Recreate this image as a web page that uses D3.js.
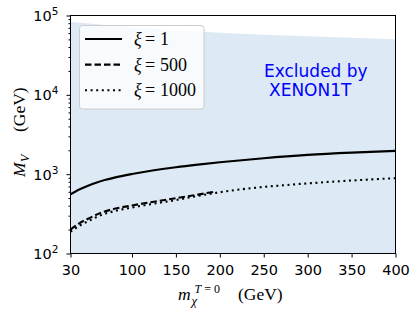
<!DOCTYPE html>
<html>
<head>
<meta charset="utf-8">
<script src="https://cdn.jsdelivr.net/npm/d3@7"></script>
<style>
body{margin:0;background:#fff;}
</style>
</head>
<body>
<div id="chart"></div>
<script>
// M_V curves (GeV), against m_chi (GeV)
const mXi1 = [30,40,50,60,70,80,100,125,150,175,200,250,300,350,400];
const mvXi1 = [555,640,715,785,848,905,1005,1120,1225,1320,1410,1590,1750,1870,1965];
const mXi500 = [30,40,50,65,80,100,125,150,175,195];
const mvXi500 = [200,240,274,327,366,403,450,497,552,605];
const mXi1000 = [30,40,50,65,80,100,125,150,175,200,225,250,275,300,325,350,375,400];
const mvXi1000 = [188,223,255,305,342,380,425,472,532,592,645,690,728,765,800,832,862,890];

// upper edge of the XENON1T excluded band
const mBound = [30,60,100,150,200,250,300,350,400];
const mvBound = [83300,77600,71000,65000,60500,57400,54900,52600,50300];

const xTicks = [30,100,150,200,250,300,350,400];
const yDecades = [2,3,4,5];
const legendLabels = ['1','500','1000'];

let dim = {'width':420, 'height':318};
let m = {left:70.5, right:395.5, top:15.5, bottom:253.5};

let svg = d3.select('#chart').append('svg')
    .attr('width', dim.width)
    .attr('height', dim.height)
    .style('background', 'white');

let x = d3.scaleLinear().domain([30,400]).range([m.left, m.right]);
let y = d3.scaleLog().domain([1e2,1e5]).range([m.bottom, m.top]);

svg.append('defs').append('clipPath').attr('id','clip')
    .append('rect')
    .attr('x', m.left).attr('y', m.top)
    .attr('width', m.right-m.left).attr('height', m.bottom-m.top);

let plot = svg.append('g').attr('clip-path','url(#clip)');

// excluded region
let band = d3.zip(mBound, mvBound);
plot.append('path')
    .datum(band)
    .attr('d', d3.area()
        .x(d => x(d[0]))
        .y0(y(1e2))
        .y1(d => y(d[1]))
        .curve(d3.curveMonotoneX))
    .attr('fill', '#dde9f4');

let series = [
    {m: mXi1, v: mvXi1, dash: null},
    {m: mXi500, v: mvXi500, dash: '6.5,3'},
    {m: mXi1000, v: mvXi1000, dash: '2,3.6'}
];

let line = d3.line()
    .x(d => x(d[0]))
    .y(d => y(d[1]))
    .curve(d3.curveMonotoneX);

plot.selectAll('path.curve')
    .data(series)
    .join('path')
    .attr('class','curve')
    .attr('d', d => line(d3.zip(d.m, d.v)))
    .attr('fill','none')
    .attr('stroke','black')
    .attr('stroke-width', 2.1)
    .attr('stroke-dasharray', d => d.dash);

// axes
let xAxis = svg.append('g')
    .attr('transform', `translate(0,${m.bottom})`)
    .call(d3.axisBottom(x).tickValues(xTicks).tickSize(4).tickPadding(7.5));
xAxis.select('.domain').remove();
xAxis.selectAll('text')
    .attr('font-family','DejaVu Sans')
    .attr('font-size', 14.5)
    .attr('fill','#000');

let minors = [];
yDecades.slice(0,-1).forEach(p => {
    for (let k=2; k<10; k++) minors.push(k*Math.pow(10,p));
});

let yMinor = svg.append('g')
    .attr('transform', `translate(${m.left},0)`)
    .call(d3.axisLeft(y).tickValues(minors).tickSize(2).tickFormat(''));
yMinor.select('.domain').remove();

let yMajor = svg.append('g')
    .attr('transform', `translate(${m.left},0)`)
    .call(d3.axisLeft(y).tickValues(yDecades.map(p => Math.pow(10,p))).tickSize(4).tickFormat(''));
yMajor.select('.domain').remove();

svg.selectAll('.tick line').attr('stroke','#000').attr('stroke-width',1);

let yLab = svg.selectAll('text.ylab')
    .data(yDecades)
    .join('text')
    .attr('class','ylab')
    .attr('x', 58.5)
    .attr('y', d => y(Math.pow(10,d)) + 5.5)
    .attr('text-anchor','end')
    .attr('font-family','DejaVu Sans')
    .attr('font-size', 14.5);
yLab.append('tspan').text('10');
yLab.append('tspan')
    .attr('font-size', 10.5)
    .attr('dy', -6)
    .text(d => d);

// frame
svg.append('rect')
    .attr('x', m.left).attr('y', m.top)
    .attr('width', m.right-m.left).attr('height', m.bottom-m.top)
    .attr('fill','none')
    .attr('stroke','#000')
    .attr('stroke-width',1);

// axis labels
let serif = 'Liberation Serif';
let xl = svg.append('text')
    .attr('font-family', serif)
    .attr('font-size', 17.5)
    .attr('fill','#000');
xl.append('tspan').attr('x',178).attr('y',300).attr('font-style','italic').text('m');
xl.append('tspan').attr('x',191.5).attr('y',304.5).attr('font-size',12.5).attr('font-style','italic').text('χ');
xl.append('tspan').attr('x',194.5).attr('y',292.5).attr('font-size',12).attr('font-style','italic').text('T');
xl.append('tspan').attr('font-size',12).text(' = 0');
xl.append('tspan').attr('x',238).attr('y',300).text('(GeV)');

let yl = svg.append('text')
    .attr('transform','translate(25,177) rotate(-90)')
    .attr('font-family', serif)
    .attr('font-size', 17.5)
    .attr('fill','#000');
yl.append('tspan').attr('x',0).attr('y',0).attr('font-style','italic').text('M');
yl.append('tspan').attr('x',15).attr('y',4).attr('font-size',12).attr('font-style','italic').text('V');
yl.append('tspan').attr('x',45).attr('y',0).text('(GeV)');

// annotation
let note = svg.append('text')
    .attr('font-family','DejaVu Sans')
    .attr('font-size', 17)
    .attr('fill','#0000ff');
note.append('tspan').attr('x',264).attr('y',77).text('Excluded by');
note.append('tspan').attr('x',269).attr('y',95.5).text('XENON1T');

// legend
let lg = svg.append('g');
lg.append('rect')
    .attr('x',79.5).attr('y',25.5)
    .attr('width',124.5).attr('height',83.5)
    .attr('rx',3)
    .attr('fill','white').attr('fill-opacity',0.8)
    .attr('stroke','#cccccc');

let rows = lg.selectAll('g.row')
    .data(series)
    .join('g')
    .attr('class','row')
    .attr('transform', (d,i) => `translate(0,${39 + i*25.6})`);
rows.append('line')
    .attr('x1',85).attr('x2',122)
    .attr('stroke','black')
    .attr('stroke-width',2.1)
    .attr('stroke-dasharray', d => d.dash);
let rt = rows.append('text')
    .attr('y', 6)
    .attr('font-family', serif)
    .attr('font-size', 18)
    .attr('fill','#000');
rt.append('tspan').attr('x',134).attr('font-style','italic').text('ξ');
rt.append('tspan').attr('x',145).text('=');
rt.append('tspan').attr('x',160).text((d,i) => legendLabels[i]);
</script>
</body>
</html>
